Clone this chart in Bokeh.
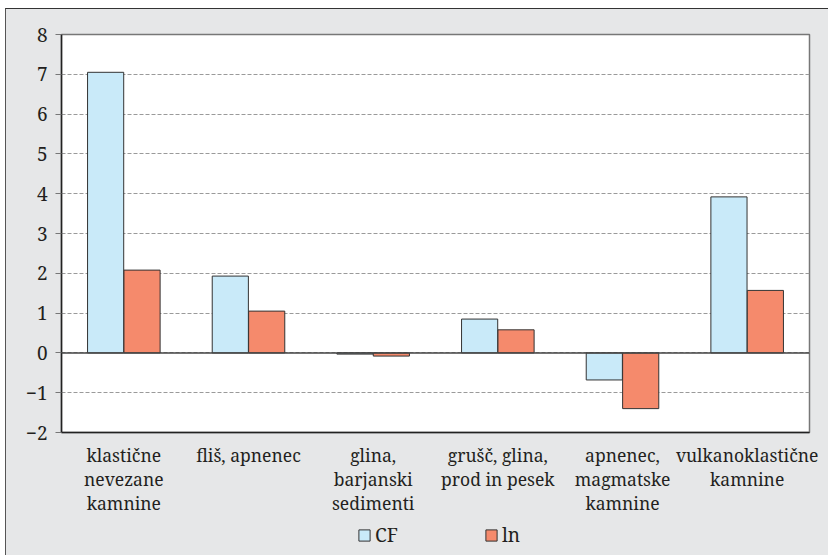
from bokeh.plotting import figure
from bokeh.models import ColumnDataSource, FactorRange, Range1d, Span, Legend, LegendItem, FixedTicker
from bokeh.layouts import column
from bokeh.transform import dodge
from bokeh.embed import file_html
from bokeh.resources import INLINE

categories = ["klastične\nnevezane\nkamnine", "fliš, apnenec", "glina,\nbarjanski\nsedimenti",
              "grušč, glina,\nprod in pesek", "apnenec,\nmagmatske\nkamnine", "vulkanoklastične\nkamnine"]
series = ["CF", "ln"]
cf_values = [7.05, 1.93, -0.03, 0.85, -0.68, 3.92]
ln_values = [2.08, 1.05, -0.08, 0.58, -1.40, 1.57]
y_ticks = [-2, -1, 0, 1, 2, 3, 4, 5, 6, 7, 8]

FONT = "Noto Serif, Liberation Serif, DejaVu Serif, serif"
BG = "#e6e7e8"
CF_COLOR = "#c9eaf9"
LN_COLOR = "#f58a6c"
TXT = "#231f20"

src = ColumnDataSource(dict(cat=categories, cf=cf_values, ln=ln_values))

p = figure(width=822, height=511, output_backend="svg", toolbar_location=None,
           x_range=FactorRange(*categories, range_padding=0),
           y_range=Range1d(-2, 8),
           min_border_left=55, min_border_right=19, min_border_top=25, min_border_bottom=88)

p.background_fill_color = "white"
p.border_fill_color = BG
p.outline_line_color = "#777"
p.outline_line_width = 1.5

p.vbar(x=dodge("cat", -0.146, range=p.x_range), top="cf", bottom=0, width=0.29, source=src,
       fill_color=CF_COLOR, line_color="#333", line_width=1)
p.vbar(x=dodge("cat", 0.146, range=p.x_range), top="ln", bottom=0, width=0.29, source=src,
       fill_color=LN_COLOR, line_color="#333", line_width=1)

p.add_layout(Span(location=0, dimension="width", line_color="#444", line_width=1.5))

p.ygrid.grid_line_color = "#9a9a9a"
p.ygrid.grid_line_dash = "4 2"
p.ygrid.grid_line_width = 1
p.xgrid.grid_line_color = None

p.yaxis.ticker = FixedTicker(ticks=y_ticks)
p.yaxis.major_label_overrides = {-2: "\u22122", -1: "\u22121"}
p.yaxis.major_tick_out = 6
p.yaxis.major_tick_in = 0
p.yaxis.minor_tick_line_color = None
p.yaxis.axis_line_color = "#222"
p.yaxis.axis_line_width = 1.5
p.yaxis.major_tick_line_color = "#777"
p.yaxis.major_label_text_font = FONT
p.yaxis.major_label_text_font_size = "19px"
p.yaxis.major_label_text_color = TXT
p.yaxis.major_label_standoff = 8

p.xaxis.major_tick_line_color = None
p.xaxis.major_tick_out = 0
p.xaxis.major_tick_in = 0
p.xaxis.axis_line_color = "#222"
p.xaxis.axis_line_width = 1.5
p.xaxis.major_label_text_font = FONT
p.xaxis.major_label_text_font_size = "17.5px"
p.xaxis.major_label_text_color = TXT
p.xaxis.major_label_standoff = 10
p.xaxis.major_label_text_line_height = 1.0

# legend strip below the chart (same grey box)
leg = figure(width=822, height=35, output_backend="svg", toolbar_location=None,
             x_range=Range1d(0, 1), y_range=Range1d(0, 1), min_border=0)
leg.axis.visible = False
leg.grid.grid_line_color = None
leg.outline_line_color = None
leg.background_fill_color = BG
leg.border_fill_color = BG
r_cf = leg.vbar(x=[-5], top=[-5], bottom=[-6], width=0.1, fill_color=CF_COLOR, line_color="#333", line_width=1)
r_ln = leg.vbar(x=[-5], top=[-5], bottom=[-6], width=0.1, fill_color=LN_COLOR, line_color="#333", line_width=1)
legend = Legend(items=[LegendItem(label=series[0], renderers=[r_cf]),
                       LegendItem(label=series[1], renderers=[r_ln])],
                orientation="horizontal", location=(296, 7), padding=0, margin=0,
                spacing=86, glyph_width=14, glyph_height=14, label_standoff=4,
                border_line_color=None, background_fill_alpha=0,
                label_text_font=FONT, label_text_font_size="19px", label_text_color=TXT)
leg.add_layout(legend, "center")

layout = column(p, leg, spacing=0)
layout.styles = {"border-top": "1px solid #333", "border-left": "1px solid #555",
                 "margin-top": "8px", "margin-left": "5px", "background-color": BG}

open("out.html", "w").write(file_html(layout, INLINE))
